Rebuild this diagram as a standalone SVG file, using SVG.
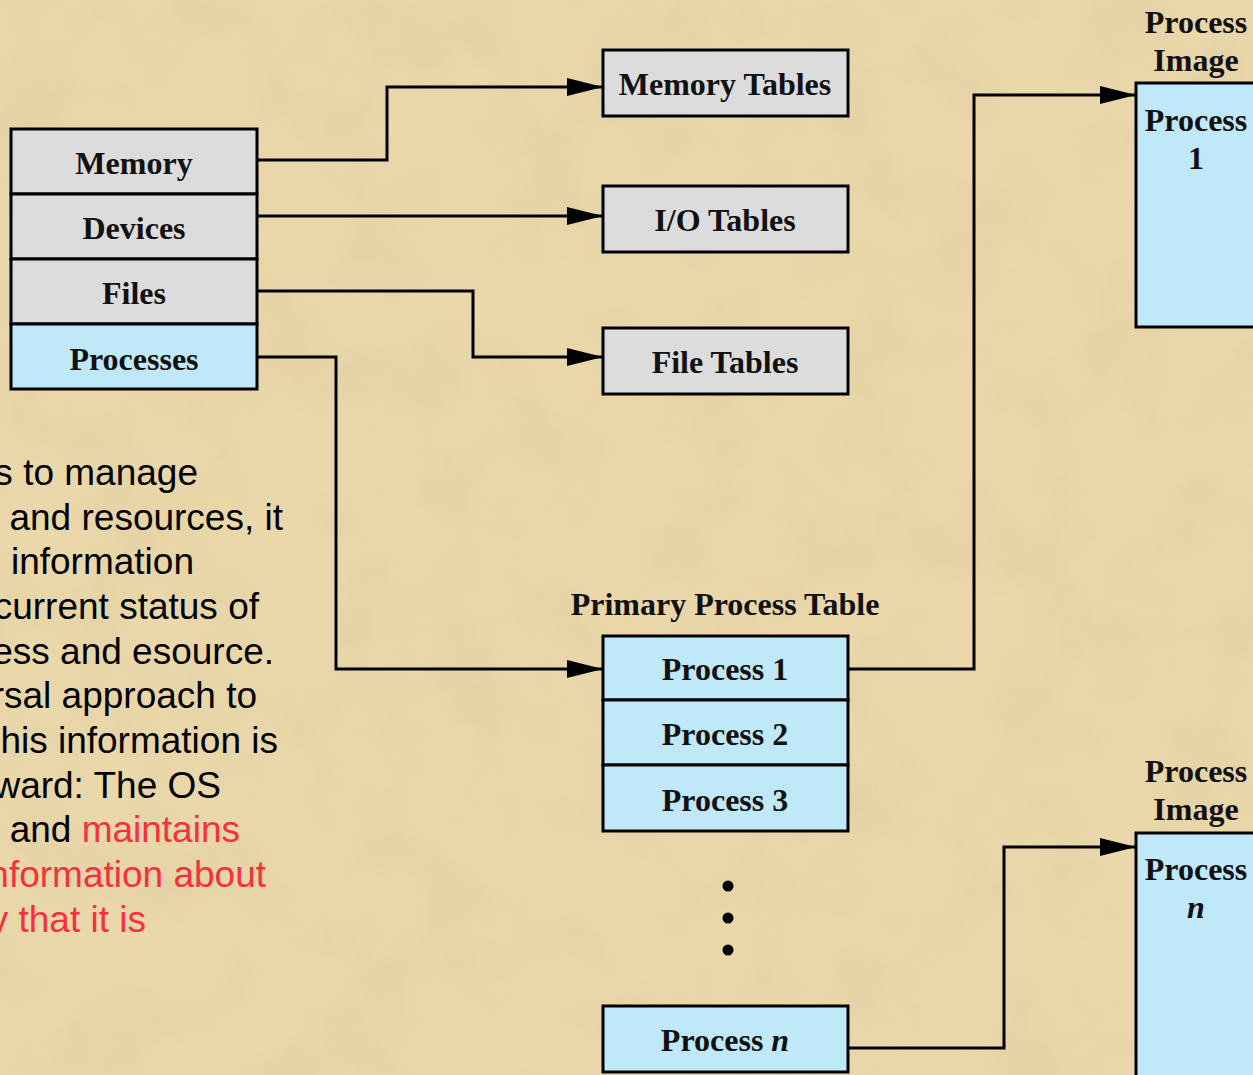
<svg xmlns="http://www.w3.org/2000/svg" width="1253" height="1075" viewBox="0 0 1253 1075">
<defs>
<marker id="arr" markerUnits="userSpaceOnUse" markerWidth="38" markerHeight="20" refX="36" refY="10" orient="auto">
<path d="M0,1 L36,10 L0,19 Z" fill="#000"/>
</marker>
<filter id="tex" x="0" y="0" width="100%" height="100%">
<feTurbulence type="fractalNoise" baseFrequency="0.012" numOctaves="4" seed="3"/>
<feColorMatrix type="matrix" values="0 0 0 0 0.55  0 0 0 0 0.45  0 0 0 0 0.25  0 0 0 0.9 -0.35"/>
</filter>
</defs>
<style>
.g{fill:#DCDCDC;stroke:#000;stroke-width:3}
.b{fill:#BFE8F8;stroke:#000;stroke-width:3}
.t{font-family:"Liberation Serif","Times New Roman",serif;font-weight:bold;font-size:32px;fill:#111;text-anchor:middle}
.s{font-family:"Liberation Sans",Arial,sans-serif;font-size:37px;fill:#000;text-anchor:end}
.r{fill:#F8303A}
.c{fill:none;stroke:#000;stroke-width:3}
</style>
<rect width="1253" height="1075" fill="#EAD7AA"/>
<rect width="1253" height="1075" filter="url(#tex)" opacity="0.35"/>

<g id="text">
<text class="s" x="198" y="485">s to manage</text>
<text class="s" x="283" y="530">and resources, it</text>
<text class="s" x="194" y="574">information</text>
<text class="s" x="259" y="619">current status of</text>
<text class="s" x="274" y="664">ess and esource.</text>
<text class="s" x="257" y="708">rsal approach to</text>
<text class="s" x="278" y="753">his information is</text>
<text class="s" x="221" y="798">ward: The OS</text>
<text class="s" x="240" y="842">and <tspan class="r">maintains</tspan></text>
<text class="s r" x="266" y="887">nformation about</text>
<text class="s r" x="146" y="932">y that it is</text>
</g>

<g id="resources">
<rect class="g" x="11" y="129" width="246" height="65"/>
<rect class="g" x="11" y="194" width="246" height="65"/>
<rect class="g" x="11" y="259" width="246" height="65"/>
<rect class="b" x="11" y="324" width="246" height="65"/>
<text class="t" x="134" y="174">Memory</text>
<text class="t" x="134" y="239">Devices</text>
<text class="t" x="134" y="304">Files</text>
<text class="t" x="134" y="370">Processes</text>
</g>

<g id="memory-tables">
<rect class="g" x="603" y="50" width="245" height="66"/>
<text class="t" x="725" y="95">Memory Tables</text>
</g>
<g id="io-tables">
<rect class="g" x="603" y="186" width="245" height="66"/>
<text class="t" x="725" y="231">I/O Tables</text>
</g>
<g id="file-tables">
<rect class="g" x="603" y="328" width="245" height="66"/>
<text class="t" x="725" y="373">File Tables</text>
</g>

<g id="primary-process-table">
<text class="t" x="725" y="615">Primary Process Table</text>
<rect class="b" x="603" y="636" width="245" height="64"/>
<rect class="b" x="603" y="700" width="245" height="65"/>
<rect class="b" x="603" y="765" width="245" height="66"/>
<text class="t" x="725" y="680">Process 1</text>
<text class="t" x="725" y="745">Process 2</text>
<text class="t" x="725" y="811">Process 3</text>
<circle cx="728" cy="886" r="5.5" fill="#000"/>
<circle cx="728" cy="918" r="5.5" fill="#000"/>
<circle cx="728" cy="950" r="5.5" fill="#000"/>
<rect class="b" x="603" y="1006" width="245" height="66"/>
<text class="t" x="725" y="1051">Process <tspan font-style="italic">n</tspan></text>
</g>

<g id="process-image-1">
<text class="t" x="1196" y="33">Process</text>
<text class="t" x="1196" y="71">Image</text>
<rect class="b" x="1136" y="83" width="140" height="244"/>
<text class="t" x="1196" y="131">Process</text>
<text class="t" x="1196" y="169">1</text>
</g>

<g id="process-image-n">
<text class="t" x="1196" y="782">Process</text>
<text class="t" x="1196" y="820">Image</text>
<rect class="b" x="1136" y="833" width="140" height="260"/>
<text class="t" x="1196" y="880">Process</text>
<text class="t" x="1196" y="918" font-style="italic">n</text>
</g>

<g id="connectors">
<path class="c" d="M257,160 H387 V87 H603" marker-end="url(#arr)"/>
<path class="c" d="M257,216 H603" marker-end="url(#arr)"/>
<path class="c" d="M257,291 H473 V357 H603" marker-end="url(#arr)"/>
<path class="c" d="M257,357 H336 V669 H603" marker-end="url(#arr)"/>
<path class="c" d="M848,669 H974 V95 H1136" marker-end="url(#arr)"/>
<path class="c" d="M848,1048 H1004 V847 H1136" marker-end="url(#arr)"/>
</g>
</svg>
